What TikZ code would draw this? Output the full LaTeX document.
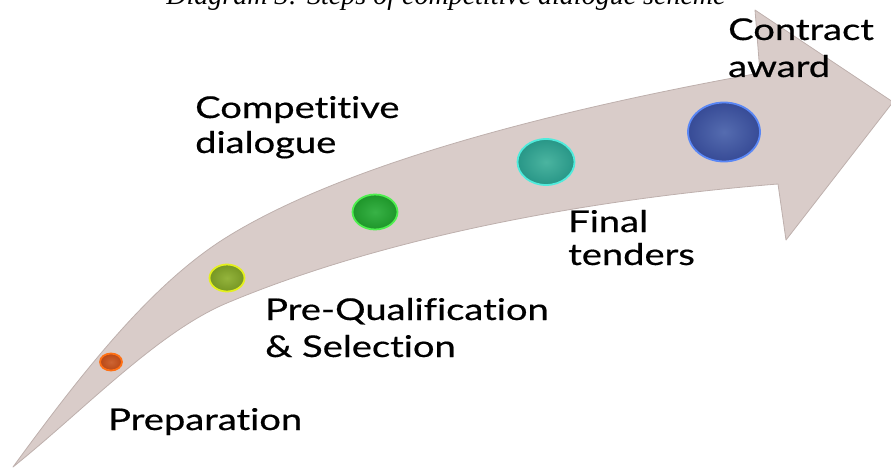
\documentclass[tikz,border=0pt]{standalone}
\usepackage{fontspec}
\setmainfont{Lato}[Ligatures=NoCommon, FakeBold=0.5]
\newfontfamily\capfont{Liberation Serif}
\usetikzlibrary{shapes.geometric}
\definecolor{arrowfill}{RGB}{217,204,201}
\definecolor{arrowedge}{RGB}{190,176,173}
\definecolor{orIn}{RGB}{205,100,50}\definecolor{orOut}{RGB}{185,72,22}\definecolor{orRing}{RGB}{255,112,20}
\definecolor{yeIn}{RGB}{148,180,60}\definecolor{yeOut}{RGB}{118,150,36}\definecolor{yeRing}{RGB}{228,240,30}
\definecolor{grIn}{RGB}{56,178,70}\definecolor{grOut}{RGB}{30,150,42}\definecolor{grRing}{RGB}{80,240,80}
\definecolor{tlIn}{RGB}{75,180,160}\definecolor{tlOut}{RGB}{40,150,135}\definecolor{tlRing}{RGB}{80,235,220}
\definecolor{blIn}{RGB}{85,108,176}\definecolor{blOut}{RGB}{55,75,150}\definecolor{blRing}{RGB}{90,135,245}
\newcommand{\wide}[1]{\scalebox{1.27}[1]{#1}}
\tikzset{
  dot/.style={ellipse, inner sep=0pt, line width=1.8pt},
  lbl/.style={anchor=base west, inner sep=0pt, font=\fontsize{30}{36}\selectfont, text=black},
}
\begin{document}
\begin{tikzpicture}[x=1pt,y=-1pt]
\useasboundingbox (0,0) rectangle (891,468);
% caption (cut at top)
\node[anchor=base, inner sep=0pt, font=\capfont\itshape\fontsize{28}{32}\selectfont] (cap) at (446,5) {Diagram 3: Steps of competitive dialogue scheme};
% big arrow
\filldraw[fill=arrowfill, draw=arrowedge, line width=0.8pt, line join=round]
  (13,467) .. controls (83,371) and (152,283.5) .. (227,237)
           .. controls (347,162.6) and (560,109) .. (760,73)
  -- (755,10) -- (893,102) -- (786,240) -- (778,184)
  .. controls (578,200) and (377,240) .. (227,303)
  .. controls (157,332.4) and (83,411) .. (13,467)
  -- cycle;
% step dots
\node[dot, minimum width=22pt, minimum height=17pt, inner color=orIn, outer color=orOut, draw=orRing] (d1) at (111,362) {};
\node[dot, minimum width=35pt, minimum height=27pt, inner color=yeIn, outer color=yeOut, draw=yeRing] (d2) at (227,278) {};
\node[dot, minimum width=45pt, minimum height=35pt, inner color=grIn, outer color=grOut, draw=grRing] (d3) at (375,212) {};
\node[dot, minimum width=57pt, minimum height=46pt, inner color=tlIn, outer color=tlOut, draw=tlRing] (d4) at (546,162) {};
\node[dot, minimum width=72pt, minimum height=59pt, inner color=blIn, outer color=blOut, draw=blRing] (d5) at (724,132) {};
% labels
\node[lbl] (t1) at (108,430) {\wide{Preparation}};
\node[lbl] (t2a) at (265,320) {\wide{Pre-Qualification}};
\node[lbl] (t2b) at (265,357) {\wide{\&\ Selection}};
\node[lbl] (t3a) at (195,118) {\wide{Competitive}};
\node[lbl] (t3b) at (195,153) {\wide{dialogue}};
\node[lbl] (t4a) at (568,232) {\wide{Final}};
\node[lbl] (t4b) at (568,265) {\wide{tenders}};
\node[lbl] (t5a) at (728,40) {\wide{Contract}};
\node[lbl] (t5b) at (728,77) {\wide{award}};
\end{tikzpicture}
\end{document}
